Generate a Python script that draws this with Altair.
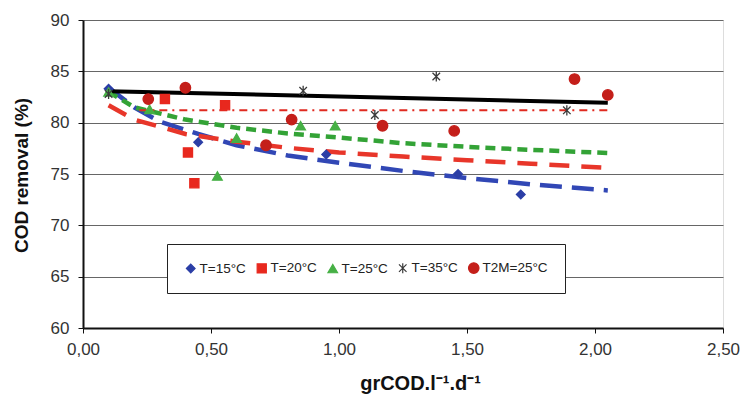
import altair as alt
import pandas as pd

# ---- data ----
series_names = ["T=15°C", "T=20°C", "T=25°C", "T=35°C", "T2M=25°C"]

t15_x = [0.10, 0.45, 0.95, 1.465, 1.71]
t15_y = [83.3, 78.1, 76.9, 75.0, 73.0]

t20_x = [0.32, 0.555, 0.41, 0.435]
t20_y = [82.3, 81.7, 77.1, 74.1]

t25_x = [0.10, 0.26, 0.60, 0.525, 0.85, 0.985]
t25_y = [83.0, 81.3, 78.5, 74.8, 79.7, 79.7]

t35_x = [0.10, 0.86, 1.14, 1.38, 1.89]
t35_y = [82.8, 83.1, 80.75, 84.5, 81.2]

t2m_x = [0.255, 0.40, 0.715, 0.815, 1.17, 1.45, 1.92, 2.05]
t2m_y = [82.3, 83.4, 77.8, 80.3, 79.7, 79.2, 84.25, 82.7]

# trend lines
tr15_x = [0.10, 0.20, 0.30, 0.45, 0.60, 0.80, 1.00, 1.25, 1.50, 1.75, 2.05]
tr15_y = [83.4, 81.5, 80.1, 78.9, 77.8, 76.8, 76.1, 75.3, 74.6, 74.0, 73.4]

tr20_x = [0.10, 0.20, 0.40, 0.60, 0.80, 1.00, 1.25, 1.50, 1.75, 2.05]
tr20_y = [81.7, 80.3, 78.9, 78.15, 77.55, 77.1, 76.7, 76.35, 76.0, 75.6]

tr25_x = [0.10, 0.20, 0.40, 0.60, 0.80, 1.00, 1.25, 1.50, 1.75, 2.05]
tr25_y = [83.0, 81.5, 80.3, 79.5, 78.95, 78.55, 78.0, 77.65, 77.35, 77.05]

tr35_x = [0.10, 0.50, 1.00, 1.50, 2.05]
tr35_y = [83.05, 82.85, 82.55, 82.25, 81.95]

tr2m_x = [0.22, 2.05]
tr2m_y = [81.2, 81.2]

# ---- styles ----
point_colors = ["#2b3ea6", "#e8281e", "#46b045", "#3a3a3a", "#c41f1a"]
asterisk = "M-0.75,-0.75L0.75,0.75M-0.75,0.75L0.75,-0.75M0,-1L0,1"
point_shapes = ["diamond", "square", "triangle-up", asterisk, "circle"]
point_sizes = [75, 110, 115, 190, 160]

rows = []
for name, xs, ys in zip(series_names,
                        [t15_x, t20_x, t25_x, t35_x, t2m_x],
                        [t15_y, t20_y, t25_y, t35_y, t2m_y]):
    for a, b in zip(xs, ys):
        rows.append({"series": name, "x": a, "y": b})
pts = pd.DataFrame(rows)

xscale = alt.Scale(domain=[0, 2.5], nice=False)
yscale = alt.Scale(domain=[60, 90], nice=False)

xaxis = alt.Axis(
    values=[0, 0.5, 1, 1.5, 2, 2.5],
    labelExpr="replace(format(datum.value, '.2f'), '.', ',')",
    labelFlush=False,
    title="grCOD.l⁻¹.d⁻¹",
    titleX=337, titleY=55, titleBaseline="middle", titleAlign="center",
    titleFontSize=20, titleFontWeight="bold", titleFont="Liberation Sans", titleColor="#111",
    labelFontSize=17, labelFont="Liberation Sans", labelColor="#333",
    labelPadding=8, tickSize=5, tickColor="#111", domainColor="#111", domainWidth=2,
    grid=False,
)
yaxis = alt.Axis(
    values=[60, 65, 70, 75, 80, 85, 90],
    title="COD removal (%)",
    titleX=-62, titleY=155, titleAngle=-90, titleBaseline="middle", titleAlign="center",
    titleFontSize=19, titleFontWeight="bold", titleFont="Liberation Sans", titleColor="#111",
    labelFontSize=17, labelFont="Liberation Sans", labelColor="#333",
    labelPadding=9, tickSize=5, tickColor="#111", domainColor="#111", domainWidth=2,
    grid=True, gridColor="#666", gridWidth=1.2,
)

def trend(xs, ys, color, dash, width):
    df = pd.DataFrame({"x": xs, "y": ys})
    m = alt.Chart(df).mark_line(color=color, strokeWidth=width, strokeDash=dash) if dash else \
        alt.Chart(df).mark_line(color=color, strokeWidth=width)
    return m.encode(x=alt.X("x:Q", scale=xscale, axis=xaxis),
                    y=alt.Y("y:Q", scale=yscale, axis=yaxis))

lines = [
    trend(tr15_x, tr15_y, "#3147b5", [22, 10], 4.5),
    trend(tr20_x, tr20_y, "#e8362a", [20, 12], 4.5),
    trend(tr25_x, tr25_y, "#33a336", [10, 6], 4.5),
    trend(tr35_x, tr35_y, "#000000", None, 4),
    trend(tr2m_x, tr2m_y, "#e02a20", [8, 5, 2, 5], 2),
]

legend = alt.Legend(
    title=None, orient="none", direction="horizontal",
    legendX=84, legendY=224,
    fillColor="white", strokeColor="#222",
    padding=17, labelFontSize=13.5, labelFont="Liberation Sans", labelColor="#222",
    symbolSize=50, columnPadding=8, labelOffset=2, symbolStrokeWidth=1.2,
)

points = alt.Chart(pts).mark_point(filled=True, opacity=1, strokeWidth=1.3).encode(
    x=alt.X("x:Q", scale=xscale, axis=xaxis),
    y=alt.Y("y:Q", scale=yscale, axis=yaxis),
    color=alt.Color("series:N", scale=alt.Scale(domain=series_names, range=point_colors), legend=legend),
    stroke=alt.Stroke("series:N", scale=alt.Scale(domain=series_names, range=point_colors), legend=legend),
    shape=alt.Shape("series:N", scale=alt.Scale(domain=series_names, range=point_shapes), legend=legend),
    size=alt.Size("series:N", scale=alt.Scale(domain=series_names, range=point_sizes), legend=None),
)

chart = alt.layer(*lines, points).properties(
    width=640, height=308,
    autosize=alt.AutoSizeParams(type="none"),
    padding={"left": 75, "top": 12, "right": 17, "bottom": 80},
).configure_view(stroke="#111", strokeWidth=1.5).configure(background="white")

chart.save("out.html", embed_options={"renderer": "svg", "actions": False})
